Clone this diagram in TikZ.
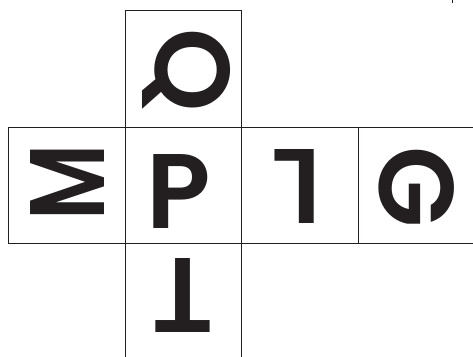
\documentclass[tikz,border=0pt]{standalone}
\usepackage{graphicx}
\usepackage{fontspec}
\setmainfont{Poppins}[BoldFont={Poppins SemiBold}]
\usetikzlibrary{positioning}
\definecolor{InkBlack}{RGB}{35,31,32}

\begin{document}
\begin{tikzpicture}[x=1pt,y=-1pt,node distance=0pt,
  face/.style={draw=InkBlack,line width=1.3pt,minimum size=116.5pt,inner sep=0pt,outer sep=0pt},
  glyph/.style={text=InkBlack,font=\fontsize{106}{106}\selectfont\bfseries,inner sep=0pt}]
\useasboundingbox (0,0) rectangle (473,356);
\clip (0,0) rectangle (473,356);
\node[face] (pface) at (183.5,185.5){};
\node[face,above=of pface] (qface){};
\node[face,below=of pface] (tface){};
\node[face,left=of pface] (mface){};
\node[face,right=of pface] (lface){};
\node[face,right=of lface] (gface){};
\node[glyph] (pchar) at (179,192){P};
\node[glyph,rotate=-90] (qchar) at (186.5,70){Q};
\node[glyph,rotate=90] (mchar) at (67.5,182.5){\scalebox{0.8}[1]{M}};
\node[glyph,rotate=180] (lchar) at (297,186.5){L};
\node[glyph,rotate=-90] (gchar) at (416.5,187.5){G};
\node[glyph,rotate=180] (tchar) at (183,295){T};
\draw[InkBlack,line width=1.5pt] (452.5,0) -- (452.5,3);
\end{tikzpicture}
\end{document}
